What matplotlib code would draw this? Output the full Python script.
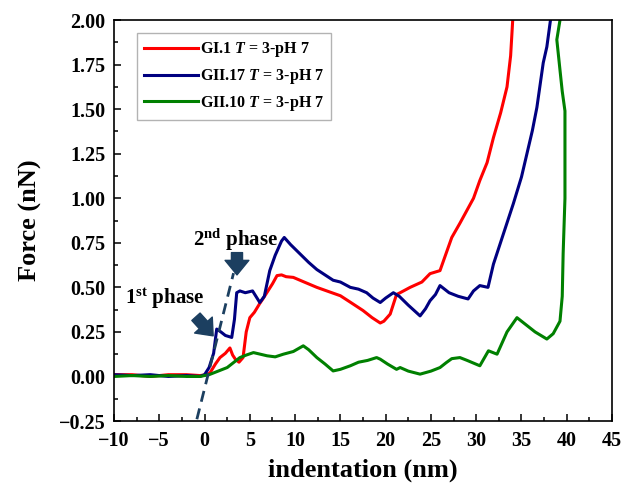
import matplotlib
matplotlib.use("Agg")
import matplotlib.pyplot as plt
from matplotlib.ticker import MultipleLocator

plt.rcParams['font.family'] = ['Liberation Serif', 'DejaVu Serif']
plt.rcParams['font.weight'] = 'bold'
plt.rcParams['mathtext.fontset'] = 'custom'
plt.rcParams['mathtext.rm'] = 'Liberation Serif:bold'
plt.rcParams['mathtext.it'] = 'Liberation Serif:bold:italic'
plt.rcParams['mathtext.bf'] = 'Liberation Serif:bold'

# ---- data ----
red_x = [-10, -8, -6, -4, -2, -0.5, 0.2, 0.6, 1.2, 1.7, 2.3, 2.8, 3.1, 3.4, 3.8, 4.25, 4.6, 5.0, 5.5,
         6.1, 6.5, 7.0, 7.5, 8.0, 8.5, 9.0, 9.8, 11, 12.4, 13.5, 15, 16, 17.5, 18.5, 19.4, 19.8, 20.5,
         21.2, 21.6, 22.7, 24, 24.9, 26, 26.6, 27.3, 28.2, 28.95, 29.7, 30.4, 31.2, 31.9, 32.7, 33.4,
         33.8, 34.03]
red_y = [0.01, 0.01, 0.0, 0.01, 0.01, 0.005, 0.01, 0.02, 0.07, 0.106, 0.13, 0.16, 0.12, 0.097, 0.08,
         0.106, 0.25, 0.33, 0.36, 0.41, 0.44, 0.48, 0.52, 0.566, 0.57, 0.56, 0.556, 0.53, 0.50, 0.48,
         0.453, 0.42, 0.37, 0.33, 0.30, 0.31, 0.35, 0.46, 0.47, 0.50, 0.53, 0.577, 0.594, 0.68, 0.78,
         0.86, 0.93, 1.0, 1.10, 1.2, 1.34, 1.48, 1.625, 1.8, 2.0]

blue_x = [-10, -8, -6, -4, -2, -0.5, 0, 0.5, 1.0, 1.34, 1.8, 2.3, 3.0, 3.3, 3.55, 3.9, 4.5, 5.3, 6.1,
          6.6, 7.2, 7.8, 8.5, 8.8, 9.5, 10.5, 11.5, 12.4, 13.3, 14.2, 15, 16.1, 17, 17.9, 18.6, 19.4,
          20.0, 20.85, 21.5, 22.5, 23.8, 24.4, 24.9, 25.5, 26.0, 27, 28, 29.1, 29.7, 30.4, 31.3, 31.9,
          33, 34.1, 35, 35.6, 36.2, 36.7, 37.4, 37.8, 38.2]
blue_y = [0.01, 0.005, 0.01, 0.0, 0.005, 0.0, 0.01, 0.05, 0.13, 0.266, 0.25, 0.23, 0.219, 0.32, 0.47,
          0.48, 0.47, 0.48, 0.415, 0.45, 0.594, 0.68, 0.76, 0.78, 0.74, 0.69, 0.64, 0.60, 0.57, 0.54,
          0.53, 0.50, 0.49, 0.47, 0.44, 0.415, 0.44, 0.47, 0.45, 0.40, 0.34, 0.38, 0.425, 0.46, 0.51,
          0.47, 0.45, 0.435, 0.48, 0.51, 0.50, 0.63, 0.8, 0.97, 1.12, 1.25, 1.38, 1.51, 1.76, 1.85, 2.0]

green_x = [-10, -8, -6, -4, -2, -0.5, 0.5, 1.5, 2.5, 3.9, 4.6, 5.4, 6.9, 7.8, 8.7, 9.8, 10.9, 11.5,
           12.4, 13.3, 14.2, 15, 16.1, 17, 18, 19.0, 19.4, 20.2, 21.2, 21.6, 22.5, 23.8, 25, 26, 26.7,
           27.3, 28.2, 29, 30.4, 31.35, 32.3, 33.4, 34.5, 35.5, 36.5, 37.8, 38.5, 39.25, 39.5, 39.6,
           39.8, 39.8, 39.5, 39.25, 38.9, 39.25]
green_y = [0.0, 0.005, 0.0, 0.005, 0.0, 0.0, 0.01, 0.03, 0.05, 0.106, 0.12, 0.134, 0.116, 0.11, 0.125,
           0.14, 0.172, 0.15, 0.106, 0.07, 0.031, 0.04, 0.06, 0.08, 0.09, 0.106, 0.097, 0.07, 0.04,
           0.05, 0.03, 0.013, 0.03, 0.05, 0.078, 0.1, 0.106, 0.09, 0.06, 0.144, 0.125, 0.25, 0.33,
           0.29, 0.25, 0.21, 0.24, 0.31, 0.45, 0.69, 1.0, 1.49, 1.6, 1.72, 1.89, 2.0]

labels = ["GI.1 $T$ = 3-pH 7", "GII.17 $T$ = 3-pH 7", "GII.10 $T$ = 3-pH 7"]
colors = ["#ff0000", "#000080", "#008000"]

dash_x = [-0.85, 3.2]
dash_y = [-0.24, 0.58]

x_ticks = list(range(-10, 46, 5))
y_ticks = [-0.25, 0.0, 0.25, 0.5, 0.75, 1.0, 1.25, 1.5, 1.75, 2.0]

# ---- figure ----
fig = plt.figure(figsize=(6.22, 4.90), dpi=100)
ax = fig.add_axes([0.1833, 0.1408, 0.8007, 0.8182])

for xs, ys, lab, c in zip([red_x, blue_x, green_x], [red_y, blue_y, green_y], labels, colors):
    ax.plot(xs, ys, color=c, lw=2.2, label=lab)

ax.plot(dash_x, dash_y, ls=(0, (4, 2.5)), color="#1c3f60", lw=2.0)

arrow_style = "simple,head_length=0.55,head_width=0.9,tail_width=0.42"
ax.annotate("", xy=(0.95, 0.228), xytext=(-0.95, 0.335),
            arrowprops=dict(arrowstyle=arrow_style, color="#1c3f60", mutation_scale=19, shrinkA=0, shrinkB=0))
ax.annotate("", xy=(3.58, 0.57), xytext=(3.58, 0.695),
            arrowprops=dict(arrowstyle=arrow_style, color="#1c3f60", mutation_scale=19, shrinkA=0, shrinkB=0))

ax.text(-4.4, 0.436, "1$^{\\mathrm{st}}$ phase", fontsize=15, fontweight='bold', ha='center', va='center')
ax.text(3.4, 0.765, "2$^{\\mathrm{nd}}$ phase", fontsize=15, fontweight='bold', ha='center', va='center')

ax.set_xlim(-10, 45)
ax.set_ylim(-0.25, 2.0)
ax.set_xticks(x_ticks)
ax.set_yticks(y_ticks)
ax.set_yticklabels([f"{v:.2f}".replace("-", "\u2212") for v in y_ticks])
ax.xaxis.set_minor_locator(MultipleLocator(2.5))
ax.yaxis.set_minor_locator(MultipleLocator(0.125))
ax.tick_params(which='both', direction='in', top=False, right=False, labelsize=14.5, width=1.1)
ax.tick_params(which='major', length=5)
ax.tick_params(which='minor', length=3)
ax.tick_params(axis='x', which='major', pad=7)
ax.tick_params(axis='y', which='major', pad=6)
for lab in ax.get_xticklabels() + ax.get_yticklabels():
    lab.set_fontweight('bold')
for s in ax.spines.values():
    s.set_linewidth(1.2)

ax.set_xlabel("indentation (nm)", fontsize=19, fontweight='bold', labelpad=6)
ax.set_ylabel("Force (nN)", fontsize=19, fontweight='bold', labelpad=12)

leg = ax.legend(loc='upper left', bbox_to_anchor=(0.046, 0.968), fontsize=11.5, frameon=True,
                fancybox=False, edgecolor='#a0a0a0', handlelength=3.4, handletextpad=0.1,
                borderpad=0.45, labelspacing=0.5, borderaxespad=0)
leg.get_frame().set_linewidth(1.0)
for t in leg.get_texts():
    t.set_fontweight('bold')

fig.savefig("out.png", dpi=100)
